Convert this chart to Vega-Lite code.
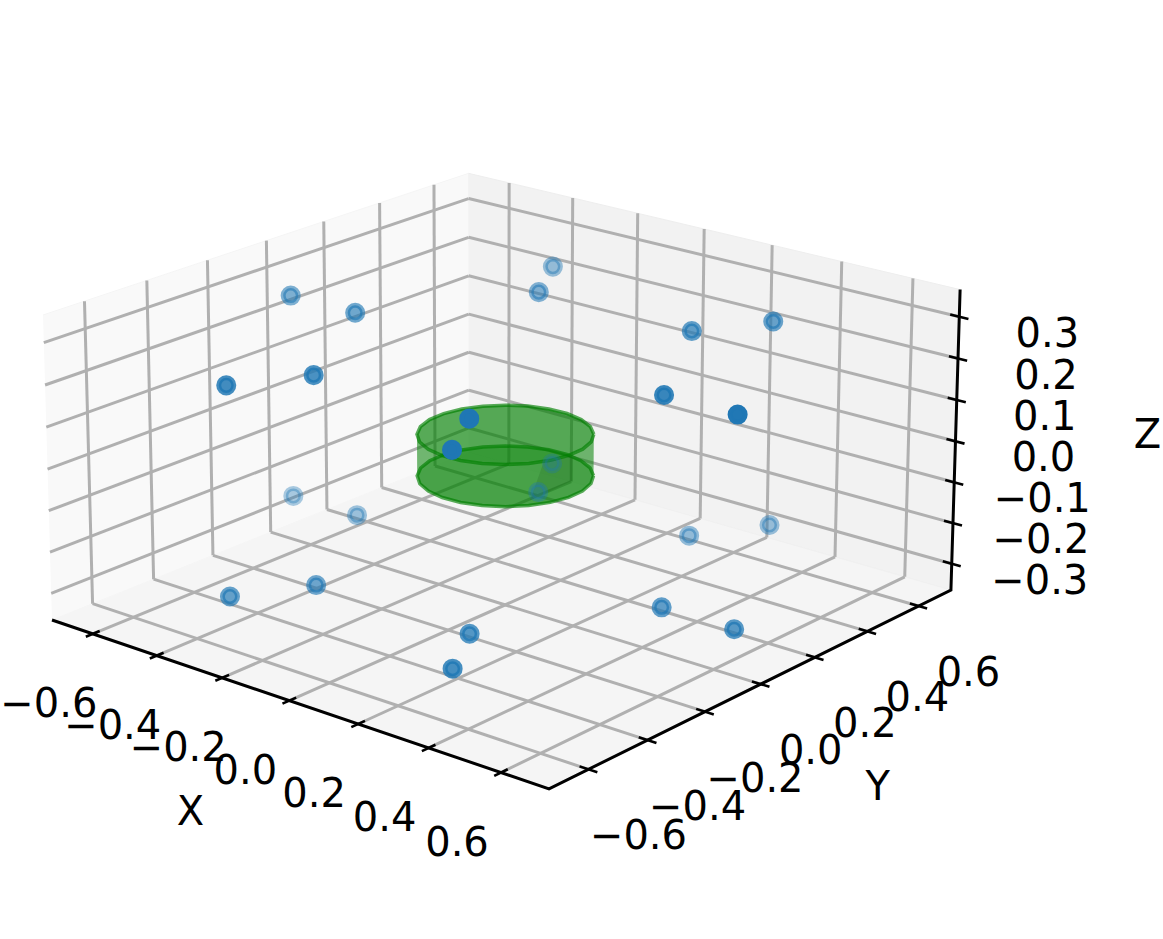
{"$schema":"https://vega.github.io/schema/vega-lite/v6.json","width":1163,"height":939,"padding":0,"autosize":"none","background":"white","view":{"stroke":null},
"data":{"values":[
{"part":"pane","id":"left","i":0,"x":-0.73,"y":-0.73,"z":-0.365},{"part":"pane","id":"left","i":1,"x":-0.73,"y":0.73,"z":-0.365},{"part":"pane","id":"left","i":2,"x":-0.73,"y":0.73,"z":0.365},{"part":"pane","id":"left","i":3,"x":-0.73,"y":-0.73,"z":0.365},
{"part":"pane","id":"back","i":0,"x":-0.73,"y":0.73,"z":-0.365},{"part":"pane","id":"back","i":1,"x":0.73,"y":0.73,"z":-0.365},{"part":"pane","id":"back","i":2,"x":0.73,"y":0.73,"z":0.365},{"part":"pane","id":"back","i":3,"x":-0.73,"y":0.73,"z":0.365},
{"part":"pane","id":"floor","i":0,"x":-0.73,"y":-0.73,"z":-0.365},{"part":"pane","id":"floor","i":1,"x":0.73,"y":-0.73,"z":-0.365},{"part":"pane","id":"floor","i":2,"x":0.73,"y":0.73,"z":-0.365},{"part":"pane","id":"floor","i":3,"x":-0.73,"y":0.73,"z":-0.365},

{"part":"grid","id":"fx1","i":0,"x":-0.6,"y":-0.73,"z":-0.365},{"part":"grid","id":"fx1","i":1,"x":-0.6,"y":0.73,"z":-0.365},
{"part":"grid","id":"fx2","i":0,"x":-0.4,"y":-0.73,"z":-0.365},{"part":"grid","id":"fx2","i":1,"x":-0.4,"y":0.73,"z":-0.365},
{"part":"grid","id":"fx3","i":0,"x":-0.2,"y":-0.73,"z":-0.365},{"part":"grid","id":"fx3","i":1,"x":-0.2,"y":0.73,"z":-0.365},
{"part":"grid","id":"fx4","i":0,"x":0,"y":-0.73,"z":-0.365},{"part":"grid","id":"fx4","i":1,"x":0,"y":0.73,"z":-0.365},
{"part":"grid","id":"fx5","i":0,"x":0.2,"y":-0.73,"z":-0.365},{"part":"grid","id":"fx5","i":1,"x":0.2,"y":0.73,"z":-0.365},
{"part":"grid","id":"fx6","i":0,"x":0.4,"y":-0.73,"z":-0.365},{"part":"grid","id":"fx6","i":1,"x":0.4,"y":0.73,"z":-0.365},
{"part":"grid","id":"fx7","i":0,"x":0.6,"y":-0.73,"z":-0.365},{"part":"grid","id":"fx7","i":1,"x":0.6,"y":0.73,"z":-0.365},
{"part":"grid","id":"fy1","i":0,"x":-0.73,"y":-0.6,"z":-0.365},{"part":"grid","id":"fy1","i":1,"x":0.73,"y":-0.6,"z":-0.365},
{"part":"grid","id":"fy2","i":0,"x":-0.73,"y":-0.4,"z":-0.365},{"part":"grid","id":"fy2","i":1,"x":0.73,"y":-0.4,"z":-0.365},
{"part":"grid","id":"fy3","i":0,"x":-0.73,"y":-0.2,"z":-0.365},{"part":"grid","id":"fy3","i":1,"x":0.73,"y":-0.2,"z":-0.365},
{"part":"grid","id":"fy4","i":0,"x":-0.73,"y":0,"z":-0.365},{"part":"grid","id":"fy4","i":1,"x":0.73,"y":0,"z":-0.365},
{"part":"grid","id":"fy5","i":0,"x":-0.73,"y":0.2,"z":-0.365},{"part":"grid","id":"fy5","i":1,"x":0.73,"y":0.2,"z":-0.365},
{"part":"grid","id":"fy6","i":0,"x":-0.73,"y":0.4,"z":-0.365},{"part":"grid","id":"fy6","i":1,"x":0.73,"y":0.4,"z":-0.365},
{"part":"grid","id":"fy7","i":0,"x":-0.73,"y":0.6,"z":-0.365},{"part":"grid","id":"fy7","i":1,"x":0.73,"y":0.6,"z":-0.365},
{"part":"grid","id":"ly1","i":0,"x":-0.73,"y":-0.6,"z":-0.365},{"part":"grid","id":"ly1","i":1,"x":-0.73,"y":-0.6,"z":0.365},
{"part":"grid","id":"ly2","i":0,"x":-0.73,"y":-0.4,"z":-0.365},{"part":"grid","id":"ly2","i":1,"x":-0.73,"y":-0.4,"z":0.365},
{"part":"grid","id":"ly3","i":0,"x":-0.73,"y":-0.2,"z":-0.365},{"part":"grid","id":"ly3","i":1,"x":-0.73,"y":-0.2,"z":0.365},
{"part":"grid","id":"ly4","i":0,"x":-0.73,"y":0,"z":-0.365},{"part":"grid","id":"ly4","i":1,"x":-0.73,"y":0,"z":0.365},
{"part":"grid","id":"ly5","i":0,"x":-0.73,"y":0.2,"z":-0.365},{"part":"grid","id":"ly5","i":1,"x":-0.73,"y":0.2,"z":0.365},
{"part":"grid","id":"ly6","i":0,"x":-0.73,"y":0.4,"z":-0.365},{"part":"grid","id":"ly6","i":1,"x":-0.73,"y":0.4,"z":0.365},
{"part":"grid","id":"ly7","i":0,"x":-0.73,"y":0.6,"z":-0.365},{"part":"grid","id":"ly7","i":1,"x":-0.73,"y":0.6,"z":0.365},
{"part":"grid","id":"lz1","i":0,"x":-0.73,"y":-0.73,"z":-0.3},{"part":"grid","id":"lz1","i":1,"x":-0.73,"y":0.73,"z":-0.3},
{"part":"grid","id":"lz2","i":0,"x":-0.73,"y":-0.73,"z":-0.2},{"part":"grid","id":"lz2","i":1,"x":-0.73,"y":0.73,"z":-0.2},
{"part":"grid","id":"lz3","i":0,"x":-0.73,"y":-0.73,"z":-0.1},{"part":"grid","id":"lz3","i":1,"x":-0.73,"y":0.73,"z":-0.1},
{"part":"grid","id":"lz4","i":0,"x":-0.73,"y":-0.73,"z":0},{"part":"grid","id":"lz4","i":1,"x":-0.73,"y":0.73,"z":0},
{"part":"grid","id":"lz5","i":0,"x":-0.73,"y":-0.73,"z":0.1},{"part":"grid","id":"lz5","i":1,"x":-0.73,"y":0.73,"z":0.1},
{"part":"grid","id":"lz6","i":0,"x":-0.73,"y":-0.73,"z":0.2},{"part":"grid","id":"lz6","i":1,"x":-0.73,"y":0.73,"z":0.2},
{"part":"grid","id":"lz7","i":0,"x":-0.73,"y":-0.73,"z":0.3},{"part":"grid","id":"lz7","i":1,"x":-0.73,"y":0.73,"z":0.3},
{"part":"grid","id":"bx1","i":0,"x":-0.6,"y":0.73,"z":-0.365},{"part":"grid","id":"bx1","i":1,"x":-0.6,"y":0.73,"z":0.365},
{"part":"grid","id":"bx2","i":0,"x":-0.4,"y":0.73,"z":-0.365},{"part":"grid","id":"bx2","i":1,"x":-0.4,"y":0.73,"z":0.365},
{"part":"grid","id":"bx3","i":0,"x":-0.2,"y":0.73,"z":-0.365},{"part":"grid","id":"bx3","i":1,"x":-0.2,"y":0.73,"z":0.365},
{"part":"grid","id":"bx4","i":0,"x":0,"y":0.73,"z":-0.365},{"part":"grid","id":"bx4","i":1,"x":0,"y":0.73,"z":0.365},
{"part":"grid","id":"bx5","i":0,"x":0.2,"y":0.73,"z":-0.365},{"part":"grid","id":"bx5","i":1,"x":0.2,"y":0.73,"z":0.365},
{"part":"grid","id":"bx6","i":0,"x":0.4,"y":0.73,"z":-0.365},{"part":"grid","id":"bx6","i":1,"x":0.4,"y":0.73,"z":0.365},
{"part":"grid","id":"bx7","i":0,"x":0.6,"y":0.73,"z":-0.365},{"part":"grid","id":"bx7","i":1,"x":0.6,"y":0.73,"z":0.365},
{"part":"grid","id":"bz1","i":0,"x":-0.73,"y":0.73,"z":-0.3},{"part":"grid","id":"bz1","i":1,"x":0.73,"y":0.73,"z":-0.3},
{"part":"grid","id":"bz2","i":0,"x":-0.73,"y":0.73,"z":-0.2},{"part":"grid","id":"bz2","i":1,"x":0.73,"y":0.73,"z":-0.2},
{"part":"grid","id":"bz3","i":0,"x":-0.73,"y":0.73,"z":-0.1},{"part":"grid","id":"bz3","i":1,"x":0.73,"y":0.73,"z":-0.1},
{"part":"grid","id":"bz4","i":0,"x":-0.73,"y":0.73,"z":0},{"part":"grid","id":"bz4","i":1,"x":0.73,"y":0.73,"z":0},
{"part":"grid","id":"bz5","i":0,"x":-0.73,"y":0.73,"z":0.1},{"part":"grid","id":"bz5","i":1,"x":0.73,"y":0.73,"z":0.1},
{"part":"grid","id":"bz6","i":0,"x":-0.73,"y":0.73,"z":0.2},{"part":"grid","id":"bz6","i":1,"x":0.73,"y":0.73,"z":0.2},
{"part":"grid","id":"bz7","i":0,"x":-0.73,"y":0.73,"z":0.3},{"part":"grid","id":"bz7","i":1,"x":0.73,"y":0.73,"z":0.3},

{"part":"axis","id":"a","i":0,"x":-0.73,"y":-0.73,"z":-0.365},{"part":"axis","id":"a","i":1,"x":0.73,"y":-0.73,"z":-0.365},{"part":"axis","id":"a","i":2,"x":0.73,"y":0.73,"z":-0.365},{"part":"axis","id":"a","i":3,"x":0.73,"y":0.73,"z":0.365},

{"part":"tick","id":"tx1","i":0,"x":-0.6,"y":-0.752,"z":-0.365},{"part":"tick","id":"tx1","i":1,"x":-0.6,"y":-0.708,"z":-0.365},
{"part":"tick","id":"tx2","i":0,"x":-0.4,"y":-0.752,"z":-0.365},{"part":"tick","id":"tx2","i":1,"x":-0.4,"y":-0.708,"z":-0.365},
{"part":"tick","id":"tx3","i":0,"x":-0.2,"y":-0.752,"z":-0.365},{"part":"tick","id":"tx3","i":1,"x":-0.2,"y":-0.708,"z":-0.365},
{"part":"tick","id":"tx4","i":0,"x":0,"y":-0.752,"z":-0.365},{"part":"tick","id":"tx4","i":1,"x":0,"y":-0.708,"z":-0.365},
{"part":"tick","id":"tx5","i":0,"x":0.2,"y":-0.752,"z":-0.365},{"part":"tick","id":"tx5","i":1,"x":0.2,"y":-0.708,"z":-0.365},
{"part":"tick","id":"tx6","i":0,"x":0.4,"y":-0.752,"z":-0.365},{"part":"tick","id":"tx6","i":1,"x":0.4,"y":-0.708,"z":-0.365},
{"part":"tick","id":"tx7","i":0,"x":0.6,"y":-0.752,"z":-0.365},{"part":"tick","id":"tx7","i":1,"x":0.6,"y":-0.708,"z":-0.365},
{"part":"tick","id":"ty1","i":0,"x":0.706,"y":-0.6,"z":-0.365},{"part":"tick","id":"ty1","i":1,"x":0.754,"y":-0.6,"z":-0.365},
{"part":"tick","id":"ty2","i":0,"x":0.706,"y":-0.4,"z":-0.365},{"part":"tick","id":"ty2","i":1,"x":0.754,"y":-0.4,"z":-0.365},
{"part":"tick","id":"ty3","i":0,"x":0.706,"y":-0.2,"z":-0.365},{"part":"tick","id":"ty3","i":1,"x":0.754,"y":-0.2,"z":-0.365},
{"part":"tick","id":"ty4","i":0,"x":0.706,"y":0,"z":-0.365},{"part":"tick","id":"ty4","i":1,"x":0.754,"y":0,"z":-0.365},
{"part":"tick","id":"ty5","i":0,"x":0.706,"y":0.2,"z":-0.365},{"part":"tick","id":"ty5","i":1,"x":0.754,"y":0.2,"z":-0.365},
{"part":"tick","id":"ty6","i":0,"x":0.706,"y":0.4,"z":-0.365},{"part":"tick","id":"ty6","i":1,"x":0.754,"y":0.4,"z":-0.365},
{"part":"tick","id":"ty7","i":0,"x":0.706,"y":0.6,"z":-0.365},{"part":"tick","id":"ty7","i":1,"x":0.754,"y":0.6,"z":-0.365},
{"part":"tick","id":"tz1","i":0,"x":0.705,"y":0.73,"z":-0.3},{"part":"tick","id":"tz1","i":1,"x":0.755,"y":0.73,"z":-0.3},
{"part":"tick","id":"tz2","i":0,"x":0.705,"y":0.73,"z":-0.2},{"part":"tick","id":"tz2","i":1,"x":0.755,"y":0.73,"z":-0.2},
{"part":"tick","id":"tz3","i":0,"x":0.705,"y":0.73,"z":-0.1},{"part":"tick","id":"tz3","i":1,"x":0.755,"y":0.73,"z":-0.1},
{"part":"tick","id":"tz4","i":0,"x":0.705,"y":0.73,"z":0},{"part":"tick","id":"tz4","i":1,"x":0.755,"y":0.73,"z":0},
{"part":"tick","id":"tz5","i":0,"x":0.705,"y":0.73,"z":0.1},{"part":"tick","id":"tz5","i":1,"x":0.755,"y":0.73,"z":0.1},
{"part":"tick","id":"tz6","i":0,"x":0.705,"y":0.73,"z":0.2},{"part":"tick","id":"tz6","i":1,"x":0.755,"y":0.73,"z":0.2},
{"part":"tick","id":"tz7","i":0,"x":0.705,"y":0.73,"z":0.3},{"part":"tick","id":"tz7","i":1,"x":0.755,"y":0.73,"z":0.3},

{"part":"dot","x":0.655,"y":0,"z":-0.255},{"part":"dot","x":0.453,"y":0,"z":-0.255},{"part":"dot","x":0.3275,"y":0.567,"z":-0.255},{"part":"dot","x":0.2265,"y":0.392,"z":-0.255},{"part":"dot","x":-0.3275,"y":0.567,"z":-0.255},{"part":"dot","x":-0.2265,"y":0.392,"z":-0.255},{"part":"dot","x":-0.655,"y":0,"z":-0.255},{"part":"dot","x":-0.453,"y":0,"z":-0.255},{"part":"dot","x":-0.3275,"y":-0.567,"z":-0.255},{"part":"dot","x":-0.2265,"y":-0.392,"z":-0.255},{"part":"dot","x":0.3275,"y":-0.567,"z":-0.255},{"part":"dot","x":0.2265,"y":-0.392,"z":-0.255},
{"part":"dot","x":0.655,"y":0,"z":0.245},{"part":"dot","x":0.453,"y":0,"z":0.245},{"part":"dot","x":0.3275,"y":0.567,"z":0.245},{"part":"dot","x":0.2265,"y":0.392,"z":0.245},{"part":"dot","x":-0.3275,"y":0.567,"z":0.245},{"part":"dot","x":-0.2265,"y":0.392,"z":0.245},{"part":"dot","x":-0.655,"y":0,"z":0.245},{"part":"dot","x":-0.453,"y":0,"z":0.245},{"part":"dot","x":-0.3275,"y":-0.567,"z":0.245},{"part":"dot","x":-0.2265,"y":-0.392,"z":0.245},{"part":"dot","x":0.3275,"y":-0.567,"z":0.245},{"part":"dot","x":0.2265,"y":-0.392,"z":0.245},

{"part":"cyl","id":"top","i":0,"x":0.1532,"y":0.1286,"z":0.05},{"part":"cyl","id":"top","i":1,"x":0.1147,"y":0.1638,"z":0.05},{"part":"cyl","id":"top","i":2,"x":0.0684,"y":0.1879,"z":0.05},{"part":"cyl","id":"top","i":3,"x":0.0174,"y":0.1992,"z":0.05},{"part":"cyl","id":"top","i":4,"x":-0.0347,"y":0.197,"z":0.05},{"part":"cyl","id":"top","i":5,"x":-0.0845,"y":0.1813,"z":0.05},{"part":"cyl","id":"top","i":6,"x":-0.1286,"y":0.1532,"z":0.05},{"part":"cyl","id":"top","i":7,"x":-0.1638,"y":0.1147,"z":0.05},{"part":"cyl","id":"top","i":8,"x":-0.1879,"y":0.0684,"z":0.05},{"part":"cyl","id":"top","i":9,"x":-0.1992,"y":0.0174,"z":0.05},{"part":"cyl","id":"top","i":10,"x":-0.197,"y":-0.0347,"z":0.05},{"part":"cyl","id":"top","i":11,"x":-0.1813,"y":-0.0845,"z":0.05},{"part":"cyl","id":"top","i":12,"x":-0.1532,"y":-0.1286,"z":0.05},{"part":"cyl","id":"top","i":13,"x":-0.1147,"y":-0.1638,"z":0.05},{"part":"cyl","id":"top","i":14,"x":-0.0684,"y":-0.1879,"z":0.05},{"part":"cyl","id":"top","i":15,"x":-0.0174,"y":-0.1992,"z":0.05},{"part":"cyl","id":"top","i":16,"x":0.0347,"y":-0.197,"z":0.05},{"part":"cyl","id":"top","i":17,"x":0.0845,"y":-0.1813,"z":0.05},{"part":"cyl","id":"top","i":18,"x":0.1286,"y":-0.1532,"z":0.05},{"part":"cyl","id":"top","i":19,"x":0.1638,"y":-0.1147,"z":0.05},{"part":"cyl","id":"top","i":20,"x":0.1879,"y":-0.0684,"z":0.05},{"part":"cyl","id":"top","i":21,"x":0.1992,"y":-0.0174,"z":0.05},{"part":"cyl","id":"top","i":22,"x":0.197,"y":0.0347,"z":0.05},{"part":"cyl","id":"top","i":23,"x":0.1813,"y":0.0845,"z":0.05},{"part":"cyl","id":"top","i":24,"x":0.1532,"y":0.1286,"z":0.05},

{"part":"cyl","id":"bot","i":0,"x":0.1532,"y":0.1286,"z":-0.05},{"part":"cyl","id":"bot","i":1,"x":0.1147,"y":0.1638,"z":-0.05},{"part":"cyl","id":"bot","i":2,"x":0.0684,"y":0.1879,"z":-0.05},{"part":"cyl","id":"bot","i":3,"x":0.0174,"y":0.1992,"z":-0.05},{"part":"cyl","id":"bot","i":4,"x":-0.0347,"y":0.197,"z":-0.05},{"part":"cyl","id":"bot","i":5,"x":-0.0845,"y":0.1813,"z":-0.05},{"part":"cyl","id":"bot","i":6,"x":-0.1286,"y":0.1532,"z":-0.05},{"part":"cyl","id":"bot","i":7,"x":-0.1638,"y":0.1147,"z":-0.05},{"part":"cyl","id":"bot","i":8,"x":-0.1879,"y":0.0684,"z":-0.05},{"part":"cyl","id":"bot","i":9,"x":-0.1992,"y":0.0174,"z":-0.05},{"part":"cyl","id":"bot","i":10,"x":-0.197,"y":-0.0347,"z":-0.05},{"part":"cyl","id":"bot","i":11,"x":-0.1813,"y":-0.0845,"z":-0.05},{"part":"cyl","id":"bot","i":12,"x":-0.1532,"y":-0.1286,"z":-0.05},{"part":"cyl","id":"bot","i":13,"x":-0.1147,"y":-0.1638,"z":-0.05},{"part":"cyl","id":"bot","i":14,"x":-0.0684,"y":-0.1879,"z":-0.05},{"part":"cyl","id":"bot","i":15,"x":-0.0174,"y":-0.1992,"z":-0.05},{"part":"cyl","id":"bot","i":16,"x":0.0347,"y":-0.197,"z":-0.05},{"part":"cyl","id":"bot","i":17,"x":0.0845,"y":-0.1813,"z":-0.05},{"part":"cyl","id":"bot","i":18,"x":0.1286,"y":-0.1532,"z":-0.05},{"part":"cyl","id":"bot","i":19,"x":0.1638,"y":-0.1147,"z":-0.05},{"part":"cyl","id":"bot","i":20,"x":0.1879,"y":-0.0684,"z":-0.05},{"part":"cyl","id":"bot","i":21,"x":0.1992,"y":-0.0174,"z":-0.05},{"part":"cyl","id":"bot","i":22,"x":0.197,"y":0.0347,"z":-0.05},{"part":"cyl","id":"bot","i":23,"x":0.1813,"y":0.0845,"z":-0.05},{"part":"cyl","id":"bot","i":24,"x":0.1532,"y":0.1286,"z":-0.05},

{"part":"cyl","id":"side","i":0,"x":0.1532,"y":0.1286,"z":0.05},{"part":"cyl","id":"side","i":1,"x":0.1813,"y":0.0845,"z":0.05},{"part":"cyl","id":"side","i":2,"x":0.197,"y":0.0347,"z":0.05},{"part":"cyl","id":"side","i":3,"x":0.1992,"y":-0.0174,"z":0.05},{"part":"cyl","id":"side","i":4,"x":0.1879,"y":-0.0684,"z":0.05},{"part":"cyl","id":"side","i":5,"x":0.1638,"y":-0.1147,"z":0.05},{"part":"cyl","id":"side","i":6,"x":0.1286,"y":-0.1532,"z":0.05},{"part":"cyl","id":"side","i":7,"x":0.0845,"y":-0.1813,"z":0.05},{"part":"cyl","id":"side","i":8,"x":0.0347,"y":-0.197,"z":0.05},{"part":"cyl","id":"side","i":9,"x":-0.0174,"y":-0.1992,"z":0.05},{"part":"cyl","id":"side","i":10,"x":-0.0684,"y":-0.1879,"z":0.05},{"part":"cyl","id":"side","i":11,"x":-0.1147,"y":-0.1638,"z":0.05},{"part":"cyl","id":"side","i":12,"x":-0.1532,"y":-0.1286,"z":0.05},
{"part":"cyl","id":"side","i":13,"x":-0.1532,"y":-0.1286,"z":-0.05},{"part":"cyl","id":"side","i":14,"x":-0.1147,"y":-0.1638,"z":-0.05},{"part":"cyl","id":"side","i":15,"x":-0.0684,"y":-0.1879,"z":-0.05},{"part":"cyl","id":"side","i":16,"x":-0.0174,"y":-0.1992,"z":-0.05},{"part":"cyl","id":"side","i":17,"x":0.0347,"y":-0.197,"z":-0.05},{"part":"cyl","id":"side","i":18,"x":0.0845,"y":-0.1813,"z":-0.05},{"part":"cyl","id":"side","i":19,"x":0.1286,"y":-0.1532,"z":-0.05},{"part":"cyl","id":"side","i":20,"x":0.1638,"y":-0.1147,"z":-0.05},{"part":"cyl","id":"side","i":21,"x":0.1879,"y":-0.0684,"z":-0.05},{"part":"cyl","id":"side","i":22,"x":0.1992,"y":-0.0174,"z":-0.05},{"part":"cyl","id":"side","i":23,"x":0.197,"y":0.0347,"z":-0.05},{"part":"cyl","id":"side","i":24,"x":0.1813,"y":0.0845,"z":-0.05},{"part":"cyl","id":"side","i":25,"x":0.1532,"y":0.1286,"z":-0.05},

{"part":"cyl","id":"shade","i":0,"x":-0.489,"y":0.73,"z":-0.337},{"part":"cyl","id":"shade","i":1,"x":-0.397,"y":0.73,"z":-0.297},{"part":"cyl","id":"shade","i":2,"x":-0.397,"y":0.73,"z":-0.362},{"part":"cyl","id":"shade","i":3,"x":-0.531,"y":0.73,"z":-0.445},

{"part":"xlab","x":-0.6,"y":-0.73,"z":-0.365,"label":"−0.6"},{"part":"xlab","x":-0.4,"y":-0.73,"z":-0.365,"label":"−0.4"},{"part":"xlab","x":-0.2,"y":-0.73,"z":-0.365,"label":"−0.2"},{"part":"xlab","x":0,"y":-0.73,"z":-0.365,"label":"0.0"},{"part":"xlab","x":0.2,"y":-0.73,"z":-0.365,"label":"0.2"},{"part":"xlab","x":0.4,"y":-0.73,"z":-0.365,"label":"0.4"},{"part":"xlab","x":0.6,"y":-0.73,"z":-0.365,"label":"0.6"},
{"part":"ylab","x":0.73,"y":-0.6,"z":-0.365,"label":"−0.6"},{"part":"ylab","x":0.73,"y":-0.4,"z":-0.365,"label":"−0.4"},{"part":"ylab","x":0.73,"y":-0.2,"z":-0.365,"label":"−0.2"},{"part":"ylab","x":0.73,"y":0,"z":-0.365,"label":"0.0"},{"part":"ylab","x":0.73,"y":0.2,"z":-0.365,"label":"0.2"},{"part":"ylab","x":0.73,"y":0.4,"z":-0.365,"label":"0.4"},{"part":"ylab","x":0.73,"y":0.6,"z":-0.365,"label":"0.6"},
{"part":"zlab","x":0.73,"y":0.73,"z":-0.3,"label":"−0.3"},{"part":"zlab","x":0.73,"y":0.73,"z":-0.2,"label":"−0.2"},{"part":"zlab","x":0.73,"y":0.73,"z":-0.1,"label":"−0.1"},{"part":"zlab","x":0.73,"y":0.73,"z":0,"label":"0.0"},{"part":"zlab","x":0.73,"y":0.73,"z":0.1,"label":"0.1"},{"part":"zlab","x":0.73,"y":0.73,"z":0.2,"label":"0.2"},{"part":"zlab","x":0.73,"y":0.73,"z":0.3,"label":"0.3"},
{"part":"xtitle","x":0,"y":-0.73,"z":-0.365,"label":"X"},{"part":"ytitle","x":0.73,"y":0,"z":-0.365,"label":"Y"},{"part":"ztitle","x":0.73,"y":0.73,"z":0,"label":"Z"}
]},
"transform":[
{"calculate":"(datum.x+0.73)/1.46","as":"nx"},
{"calculate":"(datum.y+0.73)/1.46","as":"ny"},
{"calculate":"(datum.z+0.365)/0.73","as":"nz"},
{"calculate":"1-0.086*datum.nx+0.103*datum.ny-0.02*datum.nz","as":"w"},
{"calculate":"(52+449.8*datum.nx+465.3*datum.ny-9.86*datum.nz)/datum.w","as":"sx"},
{"calculate":"(620+101*datum.nx-121*datum.ny-311.3*datum.nz)/datum.w","as":"sy"},
{"calculate":"-0.65*datum.nx+0.8*datum.ny-0.45*datum.nz","as":"depth"}
],
"encoding":{
"x":{"field":"sx","type":"quantitative","scale":{"domain":[0,1163],"nice":false,"zero":false},"axis":null},
"y":{"field":"sy","type":"quantitative","scale":{"domain":[939,0],"nice":false,"zero":false},"axis":null}
},
"layer":[
{"transform":[{"filter":"datum.part==='pane'&&datum.id==='left'"}],"mark":{"type":"line","fill":"#f9f9f9","stroke":"#f5f5f5","strokeWidth":1},"encoding":{"order":{"field":"i"}}},
{"transform":[{"filter":"datum.part==='pane'&&datum.id==='back'"}],"mark":{"type":"line","fill":"#f2f2f2","stroke":"#eeeeee","strokeWidth":1},"encoding":{"order":{"field":"i"}}},
{"transform":[{"filter":"datum.part==='pane'&&datum.id==='floor'"}],"mark":{"type":"line","fill":"#f5f5f5","stroke":"#f0f0f0","strokeWidth":1},"encoding":{"order":{"field":"i"}}},
{"transform":[{"filter":"datum.part==='grid'"}],"mark":{"type":"line","stroke":"#b0b0b0","strokeWidth":3},"encoding":{"detail":{"field":"id"},"order":{"field":"i"}}},
{"transform":[{"filter":"datum.part==='axis'"}],"mark":{"type":"line","stroke":"#000000","strokeWidth":3},"encoding":{"order":{"field":"i"}}},
{"transform":[{"filter":"datum.part==='tick'"}],"mark":{"type":"line","stroke":"#000000","strokeWidth":2.6},"encoding":{"detail":{"field":"id"},"order":{"field":"i"}}},
{"transform":[{"filter":"datum.part==='cyl'&&datum.id==='bot'"}],"mark":{"type":"line","fill":"#008000","fillOpacity":0.35,"stroke":"#008000","strokeOpacity":0.65,"strokeWidth":3.5},"encoding":{"order":{"field":"i"}}},
{"transform":[{"filter":"datum.part==='cyl'&&datum.id==='side'"}],"mark":{"type":"line","fill":"#008000","fillOpacity":0.55,"stroke":null},"encoding":{"order":{"field":"i"}}},
{"transform":[{"filter":"datum.part==='cyl'&&datum.id==='top'"}],"mark":{"type":"line","fill":"#008000","fillOpacity":0.65,"stroke":"#008000","strokeOpacity":0.65,"strokeWidth":3.5},"encoding":{"order":{"field":"i"}}},
{"transform":[{"filter":"datum.part==='cyl'&&datum.id==='shade'"}],"mark":{"type":"line","fill":"#003000","fillOpacity":0.12,"stroke":null},"encoding":{"order":{"field":"i"}}},
{"transform":[{"filter":"datum.part==='dot'"}],"mark":{"type":"circle","fill":"#1f77b4","stroke":"#1f77b4","strokeWidth":5,"size":227,"opacity":1},"encoding":{"fillOpacity":{"field":"depth","type":"quantitative","scale":{"domain":[-0.6,-0.45,-0.16,0.15,0.458],"range":[1,0.82,0.68,0.45,0.3]},"legend":null},"strokeOpacity":{"field":"depth","type":"quantitative","scale":{"domain":[-0.6,-0.45,-0.16,0.15,0.458],"range":[1,0.82,0.68,0.45,0.3]},"legend":null}}},
{"transform":[{"filter":"datum.part==='xlab'"}],"mark":{"type":"text","font":"DejaVu Sans","fontSize":40,"color":"#000000","align":"center","baseline":"middle","dx":-44,"dy":71},"encoding":{"text":{"field":"label"}}},
{"transform":[{"filter":"datum.part==='ylab'"}],"mark":{"type":"text","font":"DejaVu Sans","fontSize":40,"color":"#000000","align":"center","baseline":"middle","dx":50,"dy":68},"encoding":{"text":{"field":"label"}}},
{"transform":[{"filter":"datum.part==='zlab'"}],"mark":{"type":"text","font":"DejaVu Sans","fontSize":40,"color":"#000000","align":"center","baseline":"middle","dx":88,"dy":18},"encoding":{"text":{"field":"label"}}},
{"transform":[{"filter":"datum.part==='xtitle'"}],"mark":{"type":"text","font":"DejaVu Sans","fontSize":40,"color":"#000000","align":"center","baseline":"middle","dx":-99,"dy":112},"encoding":{"text":{"field":"label"}}},
{"transform":[{"filter":"datum.part==='ytitle'"}],"mark":{"type":"text","font":"DejaVu Sans","fontSize":40,"color":"#000000","align":"center","baseline":"middle","dx":117,"dy":104},"encoding":{"text":{"field":"label"}}},
{"transform":[{"filter":"datum.part==='ztitle'"}],"mark":{"type":"text","font":"DejaVu Sans","fontSize":40,"color":"#000000","align":"center","baseline":"middle","dx":192,"dy":-5},"encoding":{"text":{"field":"label"}}}
]}
